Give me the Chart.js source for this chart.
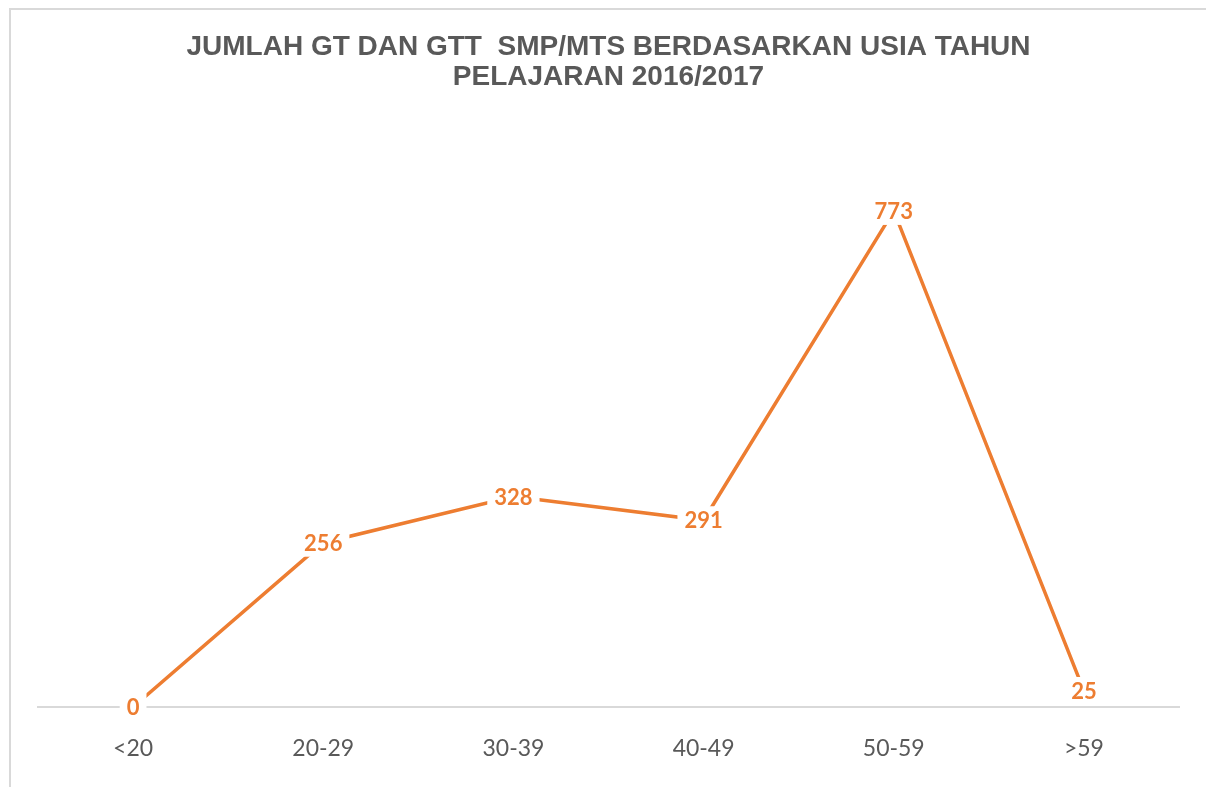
<!DOCTYPE html>
<html>
<head>
<meta charset="utf-8">
<script src="https://cdn.jsdelivr.net/npm/chart.js@4.4.1/dist/chart.umd.min.js"></script>
<style>
  html, body { margin: 0; padding: 0; background: #fff; overflow: hidden; }
  #frame { position: absolute; left: 9px; top: 8px; width: 1260px; height: 840px; border: 2px solid #d9d9d9; }
  #wrap { position: absolute; left: 0; top: 0; width: 1206px; height: 787px; }
</style>
</head>
<body>
<div id="frame"></div>
<div id="wrap"><canvas id="grafik"></canvas></div>
<script>
  const kategori = ['<20', '20-29', '30-39', '40-49', '50-59', '>59'];
  const jumlahGuru = [0, 256, 328, 291, 773, 25];
  const judul = ['JUMLAH GT DAN GTT  SMP/MTS BERDASARKAN USIA TAHUN', 'PELAJARAN 2016/2017'];

  const oranye = '#ED7D31';

  // label angka di atas titik, dengan latar putih
  const labelData = {
    id: 'labelData',
    afterDatasetsDraw(chart) {
      const ctx = chart.ctx;
      const meta = chart.getDatasetMeta(0);
      ctx.save();
      ctx.font = 'bold 22px Lato';
      ctx.textAlign = 'center';
      ctx.textBaseline = 'middle';
      meta.data.forEach((pt, i) => {
        const teks = String(jumlahGuru[i]);
        const w = ctx.measureText(teks).width;
        ctx.fillStyle = '#fff';
        ctx.fillRect(pt.x - w / 2 - 7, pt.y - 14, w + 14, 28);
        ctx.fillStyle = oranye;
        ctx.fillText(teks, pt.x, pt.y + 1);
      });
      ctx.restore();
    }
  };

  const ctx = document.getElementById('grafik').getContext('2d');

  const grafik = new Chart(ctx, {
    type: 'line',
    data: {
      labels: kategori,
      datasets: [{
        data: jumlahGuru,
        borderColor: oranye,
        backgroundColor: oranye,
        borderWidth: 3.5,
        pointRadius: 0,
        fill: false,
        tension: 0
      }]
    },
    options: {
      responsive: true,
      maintainAspectRatio: false,
      animation: false,
      layout: { padding: { left: 38, right: 27, top: 32, bottom: 0 } },
      plugins: {
        legend: { display: false },
        tooltip: { enabled: false },
        title: {
          display: true,
          text: judul,
          color: '#595959',
          font: { family: 'Liberation Sans', size: 28, weight: 'bold', lineHeight: 1.07 },
          padding: { top: 0, bottom: 37.5 }
        }
      },
      scales: {
        x: {
          offset: true,
          grid: { display: false, drawTicks: false },
          border: { display: true, color: '#d9d9d9', width: 2 },
          ticks: { color: '#595959', font: { family: 'Lato', size: 23 }, padding: 28 },
          afterFit(scale) { scale.height = 80; }
        },
        y: {
          display: false,
          min: 0,
          max: 900
        }
      }
    },
    plugins: [labelData]
  });
</script>
</body>
</html>
